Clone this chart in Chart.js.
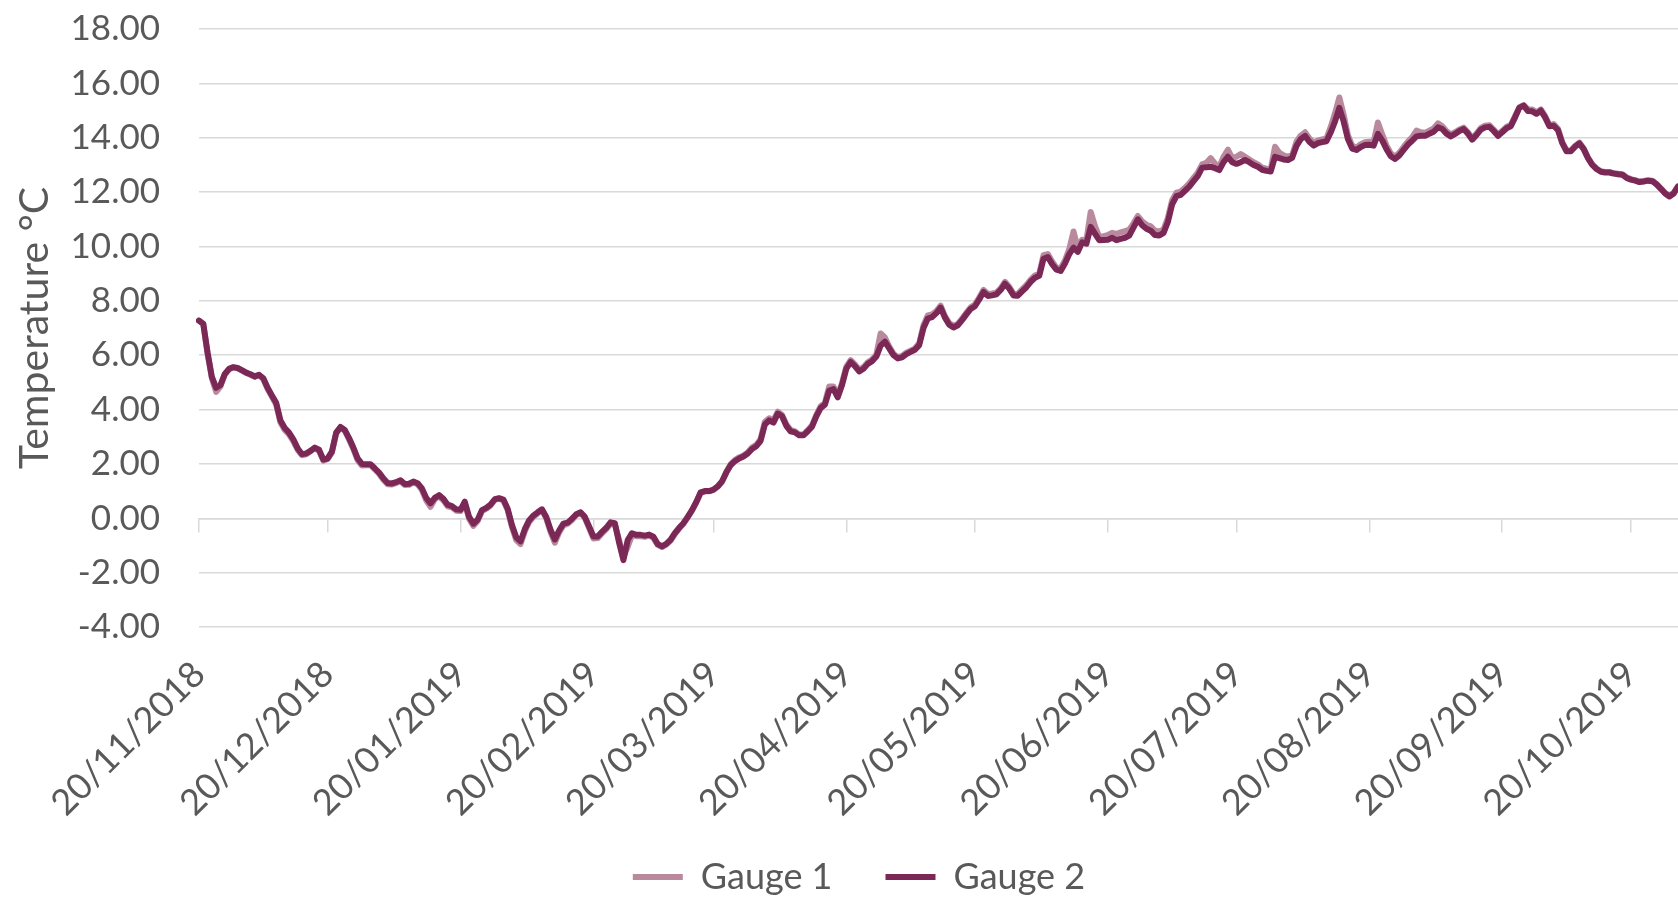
<!DOCTYPE html>
<html>
<head>
<meta charset="utf-8">
<script src="https://cdn.jsdelivr.net/npm/chart.js@4"></script>
<style>
  html, body { margin: 0; padding: 0; background: #fff; }
  #wrap { width: 1678px; height: 900px; }
</style>
</head>
<body>
<div id="wrap"><canvas id="chart-1"></canvas></div>
<script>
// daily readings, first day 20/11/2018
const startDay = Date.UTC(2018, 10, 20);

const gauge1 = [
  7.27, 7.15, 6.05, 5.15, 4.65, 4.85, 5.28, 5.48, 5.55, 5.52,
  5.43, 5.35, 5.28, 5.2, 5.26, 5.12, 4.76, 4.48, 4.18, 3.52,
  3.25, 3.08, 2.84, 2.52, 2.32, 2.35, 2.46, 2.58, 2.48, 2.12,
  2.18, 2.42, 3.12, 3.34, 3.22, 2.9, 2.55, 2.14, 1.94, 1.95,
  1.96, 1.8, 1.64, 1.42, 1.25, 1.24, 1.3, 1.36, 1.22, 1.23,
  1.32, 1.25, 1.04, 0.66, 0.42, 0.7, 0.8, 0.66, 0.44, 0.4,
  0.28, 0.27, 0.55, -0.02, -0.28, -0.1, 0.26, 0.35, 0.47, 0.68,
  0.72, 0.66, 0.3, -0.32, -0.8, -0.95, -0.48, -0.14, 0.05, 0.18,
  0.3, 0.0, -0.5, -0.9, -0.52, -0.26, -0.2, -0.06, 0.12, 0.2,
  0.02, -0.36, -0.74, -0.73, -0.56, -0.4, -0.2, -0.24, -0.8, -1.42,
  -1.05, -0.62, -0.66, -0.66, -0.68, -0.64, -0.72, -0.98, -1.06, -0.97,
  -0.82, -0.58, -0.38, -0.2, 0.03, 0.28, 0.58, 0.93, 0.99, 0.99,
  1.04, 1.17, 1.36, 1.7, 1.98, 2.14, 2.24, 2.31, 2.42, 2.6,
  2.7, 2.92, 3.55, 3.68, 3.6, 3.92, 3.8, 3.46, 3.25, 3.2,
  3.08, 3.08, 3.24, 3.42, 3.8, 4.12, 4.25, 4.85, 4.85, 4.52,
  4.98, 5.58, 5.82, 5.66, 5.46, 5.56, 5.74, 5.84, 6.02, 6.8,
  6.65, 6.32, 6.05, 5.93, 5.97, 6.09, 6.17, 6.25, 6.44, 7.1,
  7.46, 7.5, 7.62, 7.82, 7.44, 7.18, 7.08, 7.15, 7.34, 7.56,
  7.76, 7.86, 8.12, 8.4, 8.25, 8.27, 8.3, 8.46, 8.7, 8.52,
  8.26, 8.25, 8.42, 8.58, 8.78, 8.93, 9.0, 9.68, 9.72, 9.45,
  9.22, 9.2, 9.48, 9.9, 10.55, 9.92, 10.25, 10.22, 11.27, 10.75,
  10.35, 10.38, 10.42, 10.5, 10.46, 10.52, 10.56, 10.62, 10.85, 11.12,
  10.92, 10.8, 10.74, 10.58, 10.55, 10.62, 11.05, 11.7, 11.98, 12.02,
  12.16, 12.32, 12.52, 12.72, 13.02, 13.08, 13.25, 13.05, 12.92, 13.3,
  13.56, 13.25, 13.3, 13.4, 13.3, 13.2, 13.1, 13.02, 12.9, 12.86,
  12.84, 13.67, 13.45, 13.35, 13.3, 13.36, 13.85, 14.08, 14.2, 13.98,
  13.82, 13.9, 13.94, 13.97, 14.4, 14.9, 15.48, 14.85, 14.1, 13.7,
  13.64, 13.76, 13.83, 13.85, 13.84, 14.56, 14.12, 13.72, 13.42, 13.3,
  13.45, 13.66, 13.86, 14.02, 14.26, 14.2, 14.18, 14.26, 14.34, 14.53,
  14.42, 14.24, 14.12, 14.2, 14.3, 14.37, 14.2, 13.98, 14.15, 14.36,
  14.44, 14.46, 14.3, 14.12, 14.25, 14.4, 14.47, 14.8, 15.12, 15.2,
  15.05, 15.04, 14.94, 15.04, 14.8, 14.46, 14.5, 14.33, 13.84, 13.54,
  13.53, 13.7, 13.82, 13.6, 13.27, 13.02, 12.87, 12.77, 12.74, 12.74,
  12.7, 12.68, 12.66, 12.54, 12.48, 12.44, 12.39, 12.41, 12.44, 12.42,
  12.3, 12.14, 11.97, 11.86, 11.97, 12.22
];

const gauge2 = [
  7.27, 7.15, 6.1, 5.2, 4.8, 4.9, 5.3, 5.5, 5.56, 5.53,
  5.45, 5.36, 5.3, 5.22, 5.28, 5.15, 4.8, 4.52, 4.25, 3.6,
  3.32, 3.15, 2.9, 2.58, 2.36, 2.38, 2.48, 2.6, 2.52, 2.16,
  2.2, 2.45, 3.15, 3.36, 3.25, 2.95, 2.6, 2.2, 2.0, 1.99,
  1.99, 1.84, 1.68, 1.47, 1.3, 1.28, 1.33, 1.4, 1.26, 1.27,
  1.35, 1.29, 1.1, 0.75, 0.55, 0.75, 0.85, 0.72, 0.5, 0.45,
  0.33, 0.31, 0.61, 0.05, -0.2, -0.05, 0.3, 0.38, 0.5, 0.7,
  0.74, 0.69, 0.35, -0.25, -0.7, -0.85, -0.4, -0.08, 0.1, 0.22,
  0.33, 0.05, -0.42, -0.78, -0.45, -0.2, -0.16, -0.02, 0.15, 0.22,
  0.05, -0.3, -0.67, -0.67, -0.5, -0.35, -0.15, -0.18, -0.9, -1.54,
  -0.8, -0.55, -0.61, -0.61, -0.64, -0.6, -0.68, -0.95, -1.03, -0.94,
  -0.79, -0.55, -0.35, -0.18, 0.05, 0.3, 0.6, 0.95, 1.0, 1.0,
  1.05, 1.17, 1.35, 1.68, 1.95, 2.1, 2.2, 2.27, 2.38, 2.55,
  2.65, 2.85, 3.45, 3.6, 3.52, 3.85, 3.75, 3.4, 3.2, 3.16,
  3.05, 3.05, 3.2, 3.37, 3.75, 4.05, 4.18, 4.7, 4.75, 4.45,
  4.9, 5.5, 5.75, 5.6, 5.4, 5.5, 5.68, 5.78, 5.95, 6.35,
  6.5, 6.25, 6.0, 5.88, 5.92, 6.04, 6.12, 6.2, 6.37, 7.0,
  7.35, 7.4, 7.55, 7.75, 7.38, 7.12, 7.02, 7.1, 7.29, 7.5,
  7.7, 7.8, 8.05, 8.33, 8.18, 8.2, 8.24, 8.4, 8.63, 8.45,
  8.2, 8.19, 8.35, 8.5, 8.7, 8.85, 8.92, 9.55, 9.61, 9.35,
  9.15, 9.1, 9.37, 9.72, 9.96, 9.8, 10.15, 10.1, 10.72, 10.47,
  10.23, 10.24, 10.25, 10.32, 10.23, 10.28, 10.32, 10.4, 10.7, 11.0,
  10.78, 10.65, 10.58, 10.42, 10.4, 10.5, 10.9, 11.55, 11.85, 11.9,
  12.05, 12.2, 12.4, 12.6, 12.9, 12.91, 12.93, 12.88, 12.81, 13.1,
  13.3, 13.1, 13.04, 13.1, 13.18, 13.1, 13.0, 12.93, 12.82, 12.78,
  12.76, 13.3, 13.25, 13.2, 13.18, 13.26, 13.7, 13.95, 14.07, 13.85,
  13.71, 13.8, 13.84, 13.87, 14.2, 14.6, 15.1, 14.6, 13.95, 13.6,
  13.55, 13.66, 13.73, 13.74, 13.71, 14.14, 13.9, 13.58, 13.32, 13.22,
  13.35, 13.55, 13.75, 13.89, 14.05, 14.07, 14.07, 14.15, 14.22, 14.38,
  14.32, 14.15, 14.05, 14.14, 14.25, 14.32, 14.15, 13.93, 14.1, 14.3,
  14.38, 14.4, 14.25, 14.07, 14.2, 14.35, 14.42, 14.75, 15.1, 15.18,
  14.98, 14.97, 14.88, 15.0, 14.75, 14.42, 14.44, 14.28, 13.8, 13.5,
  13.5, 13.67, 13.79, 13.58, 13.25, 13.0, 12.85, 12.75, 12.72, 12.72,
  12.68, 12.66, 12.64, 12.52, 12.46, 12.42, 12.37, 12.39, 12.42, 12.4,
  12.28, 12.12, 11.95, 11.84, 11.95, 12.2
];

// dates that get a tick and a label
const tickDates = [
  "20/11/2018", "20/12/2018", "20/01/2019", "20/02/2019", "20/03/2019", "20/04/2019",
  "20/05/2019", "20/06/2019", "20/07/2019", "20/08/2019", "20/09/2019", "20/10/2019"
];

const dates = gauge2.map((v, i) => {
  const d = new Date(startDay + i * 86400000);
  return String(d.getUTCDate()).padStart(2, "0") + "/" +
    String(d.getUTCMonth() + 1).padStart(2, "0") + "/" + d.getUTCFullYear();
});

function keepTickDates(axis) {
  axis.ticks = axis.ticks.filter(t => tickDates.includes(dates[t.value]));
}

const grey = "#d9d9d9";
Chart.defaults.font.family = "Lato";
Chart.defaults.color = "#595959";

const ctx1 = document.getElementById("chart-1").getContext("2d");
const myChart = new Chart(ctx1, {
  type: "line",
  data: {
    labels: dates,
    datasets: [
      {
        label: "Gauge 1",
        data: gauge1,
        borderColor: "#b98a9e",
        backgroundColor: "#b98a9e",
        borderWidth: 6,
        borderCapStyle: "round",
        borderJoinStyle: "round",
        pointRadius: 0,
        tension: 0,
        order: 2,
      },
      {
        label: "Gauge 2",
        data: gauge2,
        borderColor: "#7b2856",
        backgroundColor: "#7b2856",
        borderWidth: 6,
        borderCapStyle: "round",
        borderJoinStyle: "round",
        pointRadius: 0,
        tension: 0,
        order: 1,
      },
    ],
  },
  options: {
    responsive: true,
    maintainAspectRatio: false,
    animation: false,
    layout: { padding: { top: 29, right: 0, bottom: -5, left: 40 } },
    plugins: {
      tooltip: { enabled: false },
      legend: {
        position: "bottom",
        labels: {
          usePointStyle: true,
          pointStyle: "line",
          pointStyleWidth: 50,
          padding: 53,
          font: { size: 36 },
          color: "#595959",
          sort: (a, b) => a.datasetIndex - b.datasetIndex,
        },
      },
    },
    scales: {
      x: {
        type: "category",
        position: "bottom",
        afterBuildTicks: keepTickDates,
        afterFit: s => {
          s.height = 179;
          s.paddingRight = 0;
          // let the rotated dates run past the axis box, as in the original
          s._computeLabelArea = () => undefined;
        },
        grid: { display: false },
        border: { display: false },
        ticks: { autoSkip: false, minRotation: 45, maxRotation: 45, padding: 18, font: { size: 36 } },
      },
      x2: {
        type: "category",
        position: { y: 0 },
        afterBuildTicks: keepTickDates,
        afterFit: s => { s.height = 0; },
        grid: { drawOnChartArea: false, color: grey, lineWidth: 1.5, tickLength: 13 },
        border: { color: grey, width: 1.5 },
        ticks: { display: false },
      },
      y: {
        min: -4,
        max: 18,
        afterFit: s => {
          s.width = 159;
          s.paddingTop = 0;
          s.paddingBottom = 0;
        },
        grid: { color: grey, lineWidth: 1.5, drawTicks: false },
        border: { display: false },
        ticks: { stepSize: 2, padding: 39, font: { size: 35 }, callback: v => v.toFixed(2) },
        title: {
          display: true,
          text: "Temperature °C",
          font: { size: 41 },
          color: "#595959",
          padding: { top: -30, bottom: 0 },
        },
      },
    },
  },
});
</script>
</body>
</html>
